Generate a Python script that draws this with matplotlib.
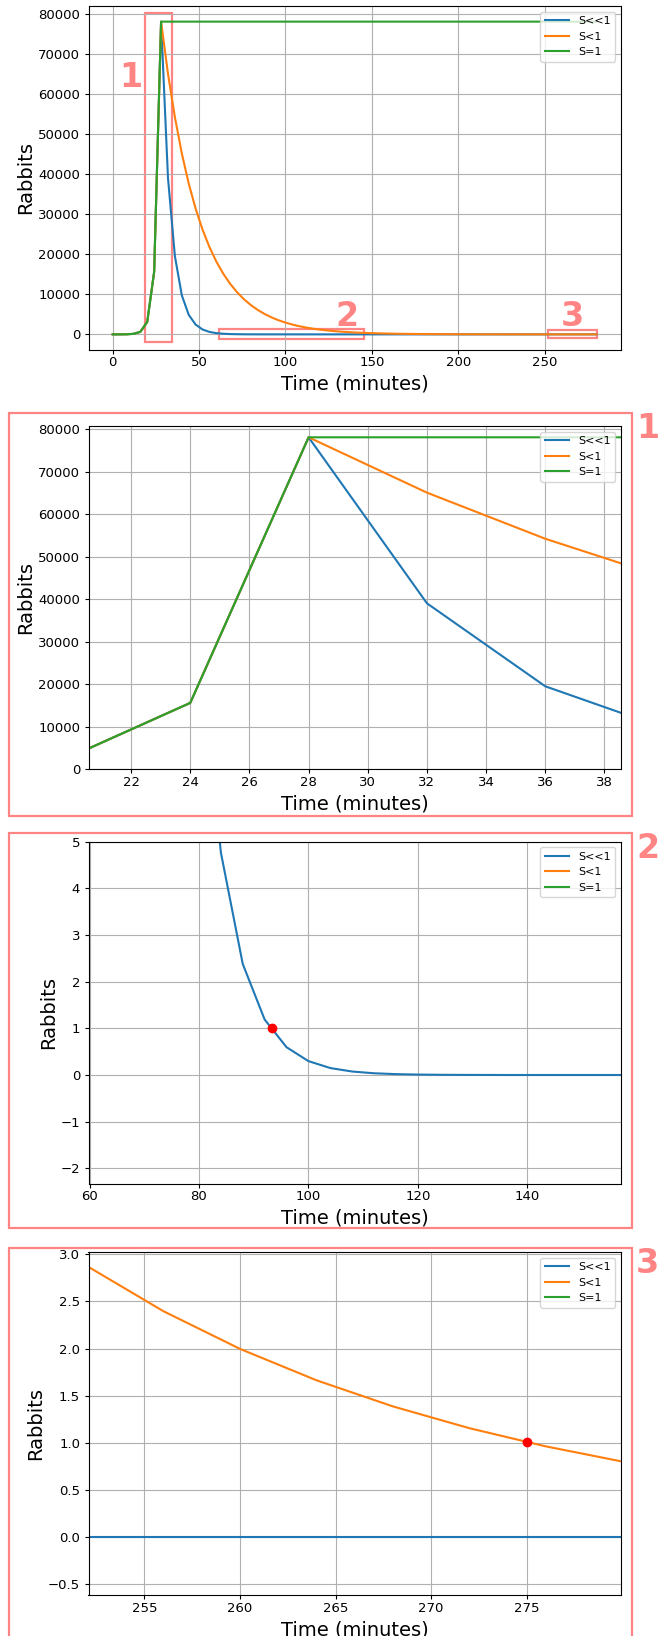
import matplotlib
matplotlib.use("Agg")
import matplotlib.pyplot as plt
from matplotlib.patches import Rectangle

# time steps (minutes)
time = [0, 4, 8, 12, 16, 20, 24, 28, 32, 36, 40, 44, 48, 52, 56, 60, 64, 68, 72, 76,
        80, 84, 88, 92, 96, 100, 104, 108, 112, 116, 120, 124, 128, 132, 136, 140, 144,
        148, 152, 156, 160, 164, 168, 172, 176, 180, 184, 188, 192, 196, 200, 204, 208,
        212, 216, 220, 224, 228, 232, 236, 240, 244, 248, 252, 256, 260, 264, 268, 272,
        276, 280]

growth = [1, 5, 25, 125, 625, 3125, 15625, 78125]

s_much_less = growth + [
    39062.5, 19531.25, 9765.6, 4882.8, 2441.4, 1220.7, 610.4, 305.2, 152.6, 76.3,
    38.15, 19.07, 9.54, 4.77, 2.38, 1.19, 0.596, 0.298, 0.149, 0.0745,
    0.0373, 0.0186, 0.0093, 0.0047, 0.0023, 0.0012,
    0, 0, 0, 0, 0, 0, 0, 0, 0, 0,
    0, 0, 0, 0, 0, 0, 0, 0, 0, 0,
    0, 0, 0, 0, 0, 0, 0, 0, 0, 0,
    0, 0, 0, 0, 0, 0, 0]

s_less = growth + [
    65104, 54253, 45211, 37676, 31397, 26164, 21803, 18169, 15141, 12618,
    10515, 8762, 7302, 6085, 5071, 4226, 3521, 2934, 2445, 2038,
    1698, 1415, 1179, 982.7, 819.0, 682.5, 568.7, 473.9, 394.9, 329.1,
    274.3, 228.6, 190.5, 158.7, 132.3, 110.2, 91.85, 76.54, 63.78, 53.15,
    44.29, 36.91, 30.76, 25.63, 21.36, 17.80, 14.83, 12.36, 10.30, 8.58,
    7.15, 5.96, 4.97, 4.14, 3.45, 2.875, 2.396, 1.997, 1.664, 1.387,
    1.156, 0.963, 0.802]

s_equal = growth + [78125] * 63

labels = ["S<<1", "S<1", "S=1"]

# points where one rabbit is left
dot2 = [93.3, 1.0]
dot3 = [275.0, 1.01]

pink = "#ff8585"
W, H = 670, 1636

fig = plt.figure(figsize=(W / 100, H / 100), dpi=100)


def px_axes(left, top, right, bottom):
    return fig.add_axes([left / W, 1 - bottom / H, (right - left) / W, (bottom - top) / H])


def px_box(left, top, right, bottom, num):
    fig.patches.append(Rectangle((left / W, 1 - bottom / H), (right - left) / W, (bottom - top) / H,
                                 transform=fig.transFigure, fill=False, edgecolor=pink,
                                 linewidth=1.6, clip_on=False))
    fig.text(647.5 / W, 1 - (top + 25) / H, num, color=pink, fontsize=24, fontweight="bold",
             ha="center", va="baseline")


def draw(ax):
    ax.plot(time, s_much_less, label=labels[0])
    ax.plot(time, s_less, label=labels[1])
    ax.plot(time, s_equal, label=labels[2])
    ax.grid(True)
    ax.set_xlabel("Time (minutes)", fontsize=14)
    ax.set_ylabel("Rabbits", fontsize=14, labelpad=2)
    ax.tick_params(labelsize=9.5, length=2.9)
    ax.tick_params(axis="x", pad=1.7)
    ax.tick_params(axis="y", pad=3.1)
    ax.legend(loc="upper right", fontsize=8, handlelength=2.2)


# main plot
ax0 = px_axes(88.5, 6, 620.7, 350)
draw(ax0)
ax0.set_xlim(-14, 294)
ax0.set_ylim(-3906, 82031)
for x0, y0, x1, y1 in [(18.7, -1824, 34.1, 80215), (61.7, -1074, 145.4, 1274), (251.7, -824, 280.1, 1099)]:
    ax0.add_patch(Rectangle((x0, y0), x1 - x0, y1 - y0, fill=False, edgecolor=pink, linewidth=1.6))
for x, y, num in [(10.6, 61800, "1"), (135.6, 2100, "2"), (265.8, 2100, "3")]:
    ax0.text(x, y, num, color=pink, fontsize=24, fontweight="bold", ha="center", va="baseline")

# zoom 1
ax1 = px_axes(88.5, 426, 620.7, 769.3)
draw(ax1)
ax1.set_xlim(20.56, 38.55)
ax1.set_ylim(0, 80784)
px_box(8.6, 413.3, 631.5, 816, "1")

# zoom 2
ax2 = px_axes(88.5, 841.7, 620.7, 1184)
draw(ax2)
ax2.plot(dot2[0], dot2[1], "ro", ms=6)
ax2.set_xlim(59.8, 157.1)
ax2.set_ylim(-2.336, 5.0)
px_box(8.6, 832.7, 631.5, 1228.3, "2")

# zoom 3
ax3 = px_axes(88.5, 1252, 620.7, 1595.3)
draw(ax3)
ax3.plot(dot3[0], dot3[1], "ro", ms=6)
ax3.set_xlim(252.07, 279.92)
ax3.set_ylim(-0.617, 3.025)
px_box(8.6, 1247.7, 631.5, 1660, "3")

fig.savefig("out.png", dpi=100)
